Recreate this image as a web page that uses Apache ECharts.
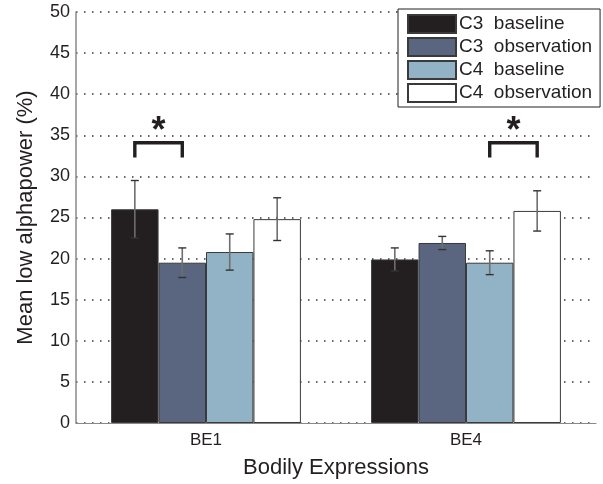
<!DOCTYPE html>
<html>
<head>
<meta charset="utf-8">
<script src="https://cdn.jsdelivr.net/npm/echarts@6/dist/echarts.min.js"></script>
<style>
html,body{margin:0;padding:0;background:#fff;}
#chart{width:603px;height:484px;}
</style>
</head>
<body>
<div id="chart"></div>
<script>
// Groups on the x axis
const categories = ['BE1', 'BE4'];
// Series names and per-group means (%)
const seriesNames = ['C3  baseline', 'C3  observation', 'C4  baseline', 'C4  observation'];
const c3Baseline = [26.0, 19.9];
const c3Observation = [19.5, 21.9];
const c4Baseline = [20.8, 19.5];
const c4Observation = [24.8, 25.8];
// Standard errors for each bar
const c3BaselineErr = [3.5, 1.4];
const c3ObservationErr = [1.8, 0.8];
const c4BaselineErr = [2.2, 1.45];
const c4ObservationErr = [2.6, 2.45];
// Significance brackets: [group, first bar, second bar, bracket top, leg bottom]
const brackets = [
  [0, 0, 1, 34.1, 32.3],
  [1, 2, 3, 34.1, 32.3]
];
const yTicks = [0, 5, 10, 15, 20, 25, 30, 35, 40, 45, 50];

const values = [c3Baseline, c3Observation, c4Baseline, c4Observation];
const errors = [c3BaselineErr, c3ObservationErr, c4BaselineErr, c4ObservationErr];
const colors = ['#231f20', '#5a6680', '#92b3c5', '#ffffff'];
const textColor = '#231f20';
const font = 'Liberation Sans, Arial, Helvetica, sans-serif';
const catGap = 0.27;

function barCenter(api, group, idx) {
  const band = api.size([1, 0])[0];
  const c = api.coord([group, 0])[0];
  const total = band * (1 - catGap);
  const w = total / 4;
  return c - total / 2 + w * (idx + 0.5);
}

const errData = [];
values.forEach((arr, i) => arr.forEach((v, g) => errData.push([g, i, v, errors[i][g]])));

const chart = echarts.init(document.getElementById('chart'));
chart.setOption({
  animation: false,
  textStyle: { fontFamily: font },
  grid: { left: 76, right: 7, top: 12, bottom: 60 },
  legend: {
    orient: 'vertical',
    left: 398, top: 9,
    data: seriesNames,
    itemWidth: 48, itemHeight: 18, itemGap: 3,
    padding: [5, 8, 4, 9],
    backgroundColor: '#fff',
    borderColor: '#231f20', borderWidth: 1,
    textStyle: { fontSize: 19, color: textColor, fontFamily: font, padding: [0, 0, 0, -2] },
    icon: 'rect'
  },
  xAxis: {
    type: 'category',
    data: categories,
    name: 'Bodily Expressions',
    nameLocation: 'middle',
    nameGap: 34,
    nameTextStyle: { fontSize: 22, color: textColor },
    axisLine: { lineStyle: { color: '#888', width: 1 } },
    axisTick: { show: false },
    axisLabel: { fontSize: 17, color: textColor, margin: 9 }
  },
  yAxis: {
    type: 'value',
    min: 0, max: 50, interval: 5,
    name: 'Mean low alphapower (%)',
    nameLocation: 'middle',
    nameGap: 39,
    nameTextStyle: { fontSize: 22, color: textColor },
    axisLine: { show: true, lineStyle: { color: '#888', width: 1.5 } },
    axisTick: { show: false },
    axisLabel: { fontSize: 18, color: textColor, margin: 6,
      formatter: v => yTicks.includes(v) ? String(v) : '' },
    splitLine: { show: true, lineStyle: { color: '#333', width: 1.5, type: [1.5, 6.5] } }
  },
  series: [
    ...values.map((arr, i) => ({
      name: seriesNames[i],
      type: 'bar',
      data: arr,
      barGap: 0,
      barCategoryGap: (catGap * 100) + '%',
      itemStyle: { color: colors[i], borderColor: '#3a3a3a', borderWidth: 1 },
      z: 2
    })),
    {
      type: 'custom',
      data: errData,
      z: 5,
      renderItem: (params, api) => {
        const g = api.value(0), i = api.value(1), v = api.value(2), e = api.value(3);
        const x = barCenter(api, g, i);
        const yt = api.coord([g, v + e])[1];
        const yb = api.coord([g, v - e])[1];
        const cap = 4;
        return {
          type: 'group',
          children: [
            { type: 'line', shape: { x1: x, y1: yt, x2: x, y2: yb }, style: { stroke: '#6e6e6e', lineWidth: 1.6 } },
            { type: 'line', shape: { x1: x - cap, y1: yt, x2: x + cap, y2: yt }, style: { stroke: '#333', lineWidth: 1.4 } },
            { type: 'line', shape: { x1: x - cap, y1: yb, x2: x + cap, y2: yb }, style: { stroke: '#333', lineWidth: 1.4 } }
          ]
        };
      }
    },
    {
      type: 'custom',
      data: brackets,
      z: 6,
      renderItem: (params, api) => {
        const g = api.value(0);
        const xa = barCenter(api, g, api.value(1));
        const xb = barCenter(api, g, api.value(2));
        const yt = api.coord([g, api.value(3)])[1];
        const yl = api.coord([g, api.value(4)])[1];
        return {
          type: 'group',
          children: [
            { type: 'polyline', shape: { points: [[xa, yl], [xa, yt], [xb, yt], [xb, yl]] },
              style: { stroke: '#231f20', lineWidth: 3.4, fill: null } },
            { type: 'text', style: { text: '*', x: (xa + xb) / 2, y: yt + 7, align: 'center', verticalAlign: 'bottom',
              font: 'bold 36px ' + font, fill: '#231f20' } }
          ]
        };
      }
    }
  ]
});
</script>
</body>
</html>
